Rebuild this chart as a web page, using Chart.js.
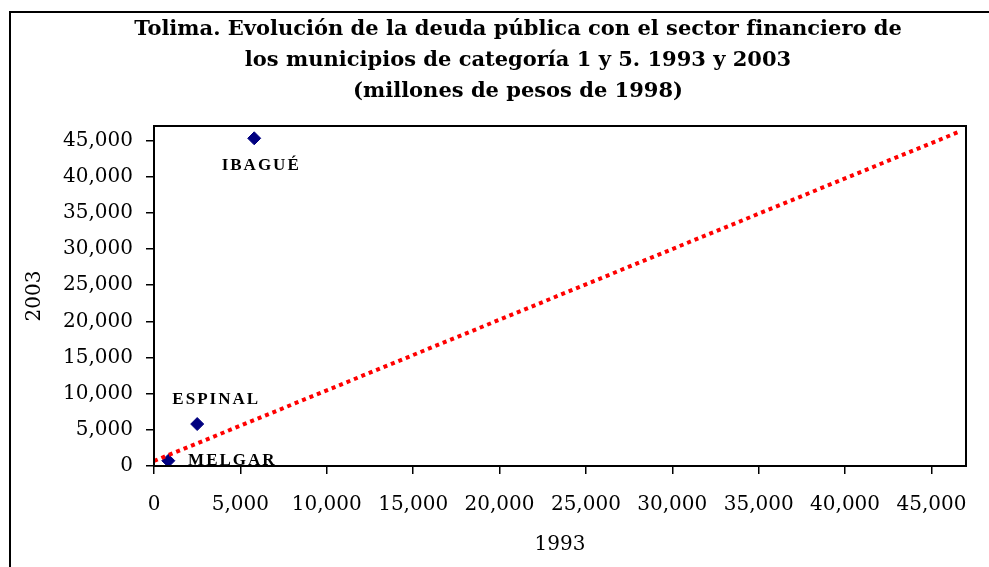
<!DOCTYPE html>
<html lang="es">
<head>
<meta charset="UTF-8">
<title>Tolima. Deuda pública 1993 y 2003</title>
<script src="https://cdn.jsdelivr.net/npm/chart.js"></script>
<style>
    body {
        margin: 0;
        background: #fff;
        width: 989px;
        height: 567px;
        overflow: hidden;
        position: relative;
    }
    .marco {
        position: absolute;
        left: 9px;
        top: 11px;
        width: 1100px;
        height: 600px;
        border: 2px solid #000;
    }
    .marco canvas {
        position: absolute;
        left: 0;
        top: 0;
    }
</style>
</head>
<body>
<div class="marco">
    <canvas id="grafico" width="978" height="554"></canvas>
</div>
<script>
    // datos (millones de pesos de 1998)
    const municipios = ['IBAGUÉ', 'ESPINAL', 'MELGAR'];
    const deuda1993 = [5800, 2500, 830];
    const deuda2003 = [45300, 5800, 730];

    // linea de referencia punteada
    const lineaX = [0, 46700];
    const lineaY = [690, 46300];

    const tickValues = [0, 5000, 10000, 15000, 20000, 25000, 30000, 35000, 40000, 45000];
    const titulo = [
        'Tolima. Evolución de la deuda pública con el sector financiero de',
        'los municipios de categoría 1 y 5. 1993 y 2003',
        '(millones de pesos de 1998)'
    ];

    const tickFont = { family: 'DejaVu Serif', size: 20 };
    const fmt = v => Number(v).toLocaleString('en-US');

    // marco del area del grafico + etiquetas de municipios
    const extras = {
        id: 'extras',
        afterDraw(chart) {
            const { ctx, chartArea: a } = chart;
            ctx.save();
            ctx.strokeStyle = '#000';
            ctx.lineWidth = 2;
            ctx.strokeRect(a.left, a.top, a.right - a.left, a.bottom - a.top);

            // desplazamiento de cada etiqueta respecto a su punto
            const offsets = [[7, 27], [19, -24], [64, 0]];
            const pts = chart.getDatasetMeta(1).data;
            ctx.font = 'bold 17px "Liberation Serif"';
            ctx.letterSpacing = '2px';
            ctx.fillStyle = '#000';
            ctx.textAlign = 'center';
            ctx.textBaseline = 'middle';
            municipios.forEach((m, i) => {
                ctx.fillText(m, pts[i].x + offsets[i][0], pts[i].y + offsets[i][1]);
            });
            ctx.restore();
        }
    };

    const scaleComun = {
        type: 'linear',
        min: 0,
        max: 47000,
        grid: { drawOnChartArea: false, color: '#000', lineWidth: 1.5, tickLength: 8 },
        border: { color: '#000', width: 2 },
        afterBuildTicks: s => { s.ticks = tickValues.map(v => ({ value: v })); }
    };

    new Chart(document.getElementById('grafico'), {
        type: 'scatter',
        data: {
            datasets: [{
                type: 'line',
                data: lineaX.map((x, i) => ({ x: x, y: lineaY[i] })),
                borderColor: '#ff0000',
                borderWidth: 4,
                borderDash: [4, 4],
                pointRadius: 0,
                fill: false
            }, {
                data: deuda1993.map((x, i) => ({ x: x, y: deuda2003[i] })),
                pointStyle: 'rectRot',
                pointRadius: 6.5,
                backgroundColor: '#000080',
                borderColor: '#000080'
            }]
        },
        options: {
            responsive: false,
            animation: false,
            layout: { padding: { left: 40, right: 4, top: 0, bottom: 0 } },
            plugins: {
                legend: { display: false },
                tooltip: { enabled: false },
                title: {
                    display: true,
                    text: titulo,
                    color: '#000',
                    font: { family: 'DejaVu Serif', size: 21, weight: 'bold', lineHeight: 31 / 21 },
                    padding: { top: 1.5, bottom: 18.5 }
                }
            },
            scales: {
                x: {
                    ...scaleComun,
                    position: 'bottom',
                    ticks: { color: '#000', font: tickFont, padding: 19, maxRotation: 0, autoSkip: false, callback: fmt },
                    title: { display: true, text: '1993', color: '#000', font: tickFont, padding: { top: 0, bottom: 10 } },
                    afterFit: s => { s.height = 101; }
                },
                y: {
                    ...scaleComun,
                    position: 'left',
                    ticks: { color: '#000', font: tickFont, padding: 13, autoSkip: false, callback: fmt },
                    title: { display: true, text: '2003', color: '#000', font: tickFont, padding: { top: -28, bottom: 0 } },
                    afterFit: s => { s.width = 103; }
                },
                // eje vacio a la derecha: solo reserva el margen del marco
                derecha: {
                    type: 'linear',
                    position: 'right',
                    ticks: { display: false },
                    grid: { display: false },
                    border: { display: false },
                    afterFit: s => { s.width = 19; }
                }
            }
        },
        plugins: [extras]
    });
</script>
</body>
</html>
